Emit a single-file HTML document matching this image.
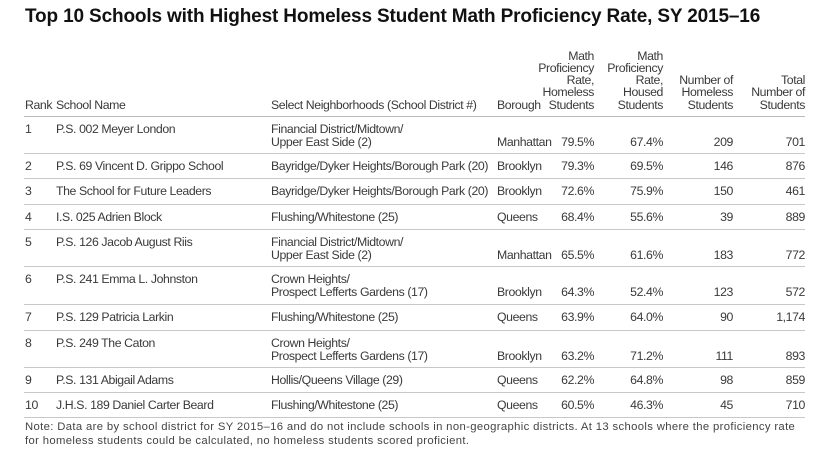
<!DOCTYPE html>
<html><head><meta charset="utf-8"><style>
body{margin:0;width:820px;height:460px;background:#fff;position:relative;overflow:hidden;font-family:"Liberation Sans",sans-serif;color:#3a3a3a}
.t{position:absolute;left:25px;top:6px;font-size:19px;font-weight:bold;color:#111;letter-spacing:-0.15px}
.c{position:absolute;font-size:12.3px;line-height:12.5px;white-space:nowrap;letter-spacing:-0.4px}
.h{position:absolute;font-size:12.3px;line-height:12.3px;bottom:349px;white-space:nowrap;letter-spacing:-0.4px}
.r{text-align:right}
.ln{position:absolute;left:24px;width:781px;height:1px;background:#c8c8c8}
.n{position:absolute;left:25px;font-size:11.3px;line-height:14px;color:#444;letter-spacing:0.35px}
</style></head><body>
<div class="t">Top 10 Schools with Highest Homeless Student Math Proficiency Rate, SY 2015–16</div>
<div class="h" style="left:25px">Rank</div>
<div class="h" style="left:56px">School Name</div>
<div class="h" style="left:271px">Select Neighborhoods (School District #)</div>
<div class="h" style="left:497px">Borough</div>
<div class="h r" style="right:226px">Math<br>Proficiency<br>Rate,<br>Homeless<br>Students</div>
<div class="h r" style="right:157px">Math<br>Proficiency<br>Rate,<br>Housed<br>Students</div>
<div class="h r" style="right:87px">Number of<br>Homeless<br>Students</div>
<div class="h r" style="right:15px">Total<br>Number of<br>Students</div>
<div class="ln" style="top:116px;background:#bbb"></div>
<div id="rows"></div>
<script>
var d=[
[116,153,"1","P.S. 002 Meyer London","Financial District/Midtown/<br>Upper East Side (2)","Manhattan","79.5%","67.4%","209","701"],
[153,178,"2","P.S. 69 Vincent D. Grippo School","Bayridge/Dyker Heights/Borough Park (20)","Brooklyn","79.3%","69.5%","146","876"],
[178,204,"3","The School for Future Leaders","Bayridge/Dyker Heights/Borough Park (20)","Brooklyn","72.6%","75.9%","150","461"],
[204,229,"4","I.S. 025 Adrien Block","Flushing/Whitestone (25)","Queens","68.4%","55.6%","39","889"],
[229,266,"5","P.S. 126 Jacob August Riis","Financial District/Midtown/<br>Upper East Side (2)","Manhattan","65.5%","61.6%","183","772"],
[266,304,"6","P.S. 241 Emma L. Johnston","Crown Heights/<br>Prospect Lefferts Gardens (17)","Brooklyn","64.3%","52.4%","123","572"],
[304,330,"7","P.S. 129 Patricia Larkin","Flushing/Whitestone (25)","Queens","63.9%","64.0%","90","1,174"],
[330,367,"8","P.S. 249 The Caton","Crown Heights/<br>Prospect Lefferts Gardens (17)","Brooklyn","63.2%","71.2%","111","893"],
[367,392,"9","P.S. 131 Abigail Adams","Hollis/Queens Village (29)","Queens","62.2%","64.8%","98","859"],
[392,417,"10","J.H.S. 189 Daniel Carter Beard","Flushing/Whitestone (25)","Queens","60.5%","46.3%","45","710"]];
var h="";
d.forEach(function(r){var t=r[0]+7,two=(r[1]-r[0])>30,v=two?t+12.5:t;
h+='<div class="c" style="left:25px;top:'+t+'px">'+r[2]+'</div>';
h+='<div class="c" style="left:56px;top:'+t+'px">'+r[3]+'</div>';
h+='<div class="c" style="left:271px;top:'+t+'px">'+r[4]+'</div>';
h+='<div class="c" style="left:497px;top:'+v+'px">'+r[5]+'</div>';
h+='<div class="c" style="right:226px;top:'+v+'px">'+r[6]+'</div>';
h+='<div class="c" style="right:157px;top:'+v+'px">'+r[7]+'</div>';
h+='<div class="c" style="right:87px;top:'+v+'px">'+r[8]+'</div>';
h+='<div class="c" style="right:15px;top:'+v+'px">'+r[9]+'</div>';
h+='<div class="ln" style="top:'+r[1]+'px"></div>';});
document.getElementById("rows").innerHTML=h;
</script>
<div class="n" style="top:420px">Note: Data are by school district for SY 2015–16 and do not include schools in non-geographic districts. At 13 schools where the proficiency rate<br>for homeless students could be calculated, no homeless students scored proficient.</div>
</body></html>
